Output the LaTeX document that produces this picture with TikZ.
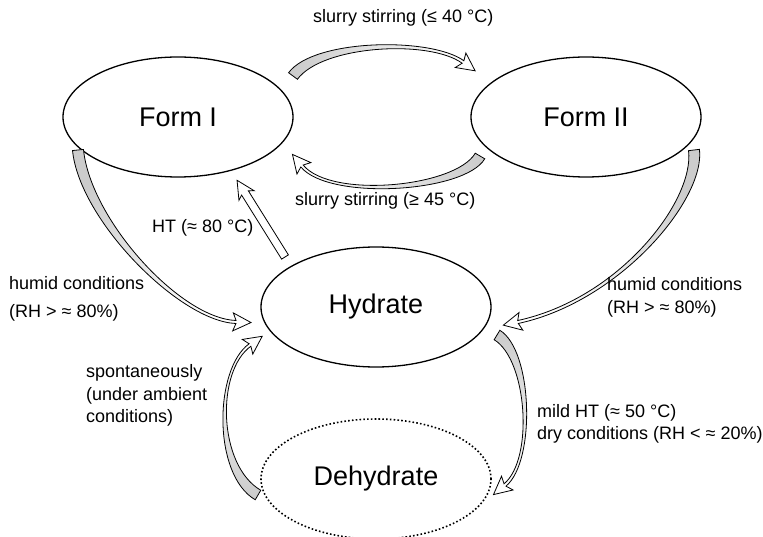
\documentclass[tikz,border=0pt]{standalone}
\usepackage{fontspec}
\setmainfont{Liberation Sans}
\usetikzlibrary{calc, shapes.geometric}

% tapered curved arrow: [start colour]{start}{control 1}{control 2}{head base}{start half width}{end half width}
\newcommand{\swoosh}[7][gray!40]{%
  \coordinate (sw-s) at #2;
  \coordinate (sw-a) at #3;
  \coordinate (sw-b) at #4;
  \coordinate (sw-e) at #5;
  \coordinate (sw-k) at ($(sw-e)!3pt!(sw-b)$);
  \pgfmathanglebetweenpoints{\pgfpointanchor{sw-s}{center}}{\pgfpointanchor{sw-e}{center}}%
  \pgfmathsetmacro{\swang}{\pgfmathresult-90}%
  \draw[swoosh line, top color=white, bottom color=#1, shading angle=\swang]
    ($(sw-s)!#6!90:(sw-a)$) .. controls ($(sw-a)!#6!-90:(sw-s)$) and ($(sw-b)!#7!90:(sw-e)$) .. ($(sw-e)!#7!-90:(sw-b)$)
    -- ($(sw-k)!9pt!-90:(sw-b)$) -- ($(sw-e)!-15pt!(sw-b)$) -- ($(sw-k)!9pt!90:(sw-b)$)
    -- ($(sw-e)!#7!90:(sw-b)$) .. controls ($(sw-b)!#7!-90:(sw-e)$) and ($(sw-a)!#6!90:(sw-s)$) .. ($(sw-s)!#6!-90:(sw-a)$)
    -- cycle;
}

\begin{document}
\begin{tikzpicture}[
        x=1pt, y=-1pt,
        phase/.style={ellipse, draw, line width=1.3pt, minimum width=230pt, minimum height=120pt, inner sep=0pt, font=\fontsize{27}{32}\selectfont},
        lost/.style={phase, line width=1.6pt, dash pattern=on 1.6pt off 2.2pt},
        cond/.style={inner sep=0pt, align=left, font=\fontsize{18}{22.5}\selectfont},
        swoosh line/.style={draw=black, line width=0.8pt, line join=miter},
    ]
    \useasboundingbox (0,0) rectangle (763,537);
    % PHASES
    \node[phase] (formI) at (178,117) {Form I};
    \node[phase] (formII) at (586,117) {Form II};
    \node[phase] (hydrate) at (376,307) {Hydrate};
    \node[lost] (dehydrate) at (376,479) {Dehydrate};
    % TRANSFORMATIONS
    \swoosh{($(formI)+(115,-41)$)}{($(formI)+(140,-75)$)}{($(formII)+(-156,-79)$)}{($(formII)+(-123,-55)$)}{5.5pt}{1.5pt}
    \swoosh{($(formII)+(-106,39)$)}{($(formII)+(-126,73)$)}{($(formI)+(152,83)$)}{($(formI)+(124,49)$)}{5.5pt}{1.5pt}
    \swoosh[white]{($(hydrate)+(-91,-50)$)}{($(hydrate)+(-104.3,-71.3)$)}{($(hydrate)+(-117.7,-92.7)$)}{($(hydrate)+(-131,-114)$)}{4pt}{4pt}
    \swoosh{($(formI)+(-100,33)$)}{($(formI)+(-93,103)$)}{($(hydrate)+(-196,13)$)}{($(hydrate)+(-140,15)$)}{5.5pt}{1.5pt}
    \swoosh{($(formII)+(108,33)$)}{($(formII)+(114,83)$)}{($(hydrate)+(244,-7)$)}{($(hydrate)+(142,15)$)}{5.5pt}{1.5pt}
    \swoosh{($(dehydrate)+(-118,16)$)}{($(dehydrate)+(-161,-9)$)}{($(hydrate)+(-161,63)$)}{($(hydrate)+(-126,38)$)}{5.5pt}{1.5pt}
    \swoosh{($(hydrate)+(121,28)$)}{($(hydrate)+(154,48)$)}{($(dehydrate)+(159,-19)$)}{($(dehydrate)+(129,6)$)}{5.5pt}{1.5pt}
    % CONDITIONS
    \node[cond, anchor=west] (stirlow) at (313,18) {slurry stirring (≤ 40 °C)};
    \node[cond, anchor=west] (stirhigh) at (295,201) {slurry stirring (≥ 45 °C)};
    \node[cond, anchor=west] (heat) at (152,228) {HT (≈ 80 °C)};
    \node[cond, anchor=west] (humidI) at (9,299) {humid conditions\\[5pt](RH > ≈ 80\%)};
    \node[cond, anchor=west] (humidII) at (607,297.5) {humid conditions\\(RH > ≈ 80\%)};
    \node[cond, anchor=west] (ambient) at (86,395.5) {spontaneously\\(under ambient\\conditions)};
    \node[cond, anchor=west] (dry) at (537,424) {mild HT (≈ 50 °C)\\dry conditions (RH < ≈ 20\%)};
\end{tikzpicture}
\end{document}
